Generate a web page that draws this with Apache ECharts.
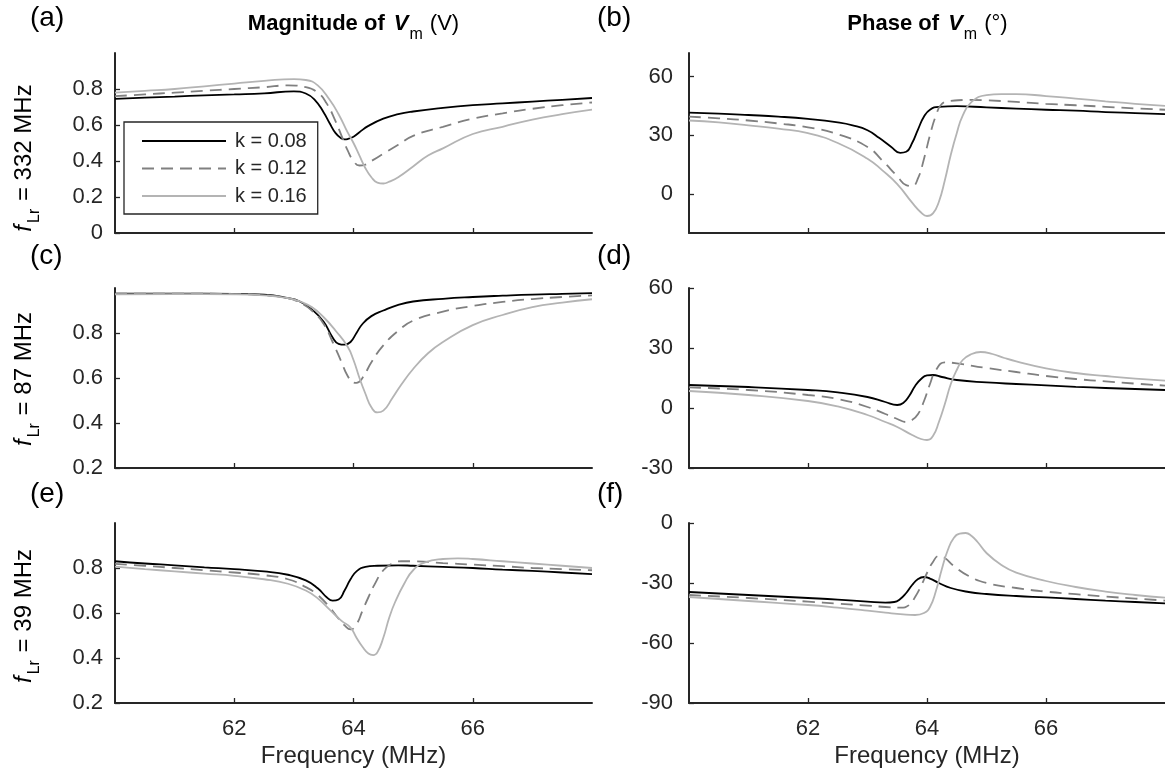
<!DOCTYPE html>
<html><head><meta charset="utf-8">
<script src="https://cdn.jsdelivr.net/npm/echarts@6/dist/echarts.min.js"></script>
<style>html,body{margin:0;padding:0;background:#fff}#chart{width:1165px;height:783px}</style>
</head><body><div id="chart"></div>
<script>
// ---------- data (frequency in MHz) ----------
const seriesNames = ['k = 0.08', 'k = 0.12', 'k = 0.16'];
const xTicks = [62, 64, 66];

// (a) magnitude, fLr = 332 MHz
const aF08 = [60,60.5,61,61.5,62,62.5,63,63.2,63.35,63.5,63.6,63.7,63.8,63.85,63.9,64.0,64.1,64.25,64.5,64.75,65,65.5,66,66.5,67,67.5,68];
const aV08 = [0.745,0.752,0.758,0.765,0.77,0.776,0.787,0.775,0.74,0.67,0.61,0.555,0.525,0.52,0.522,0.535,0.56,0.595,0.635,0.66,0.675,0.695,0.71,0.72,0.73,0.74,0.75];
const aF12 = [60,60.5,61,61.5,62,62.5,62.9,63.2,63.4,63.55,63.7,63.8,63.9,64.0,64.1,64.2,64.3,64.5,64.75,65,65.5,66,66.5,67,67.5,68];
const aV12 = [0.76,0.77,0.78,0.79,0.80,0.81,0.82,0.81,0.78,0.72,0.62,0.54,0.46,0.40,0.375,0.38,0.40,0.44,0.49,0.54,0.59,0.635,0.665,0.69,0.71,0.725];
const aF16 = [60,60.5,61,61.5,62,62.5,63,63.2,63.4,63.6,63.75,63.9,64.0,64.1,64.2,64.3,64.4,64.5,64.6,64.75,65,65.25,65.5,66,66.5,67,67.5,68];
const aV16 = [0.78,0.79,0.80,0.815,0.83,0.845,0.855,0.85,0.82,0.74,0.66,0.56,0.50,0.43,0.36,0.31,0.28,0.275,0.285,0.31,0.37,0.43,0.47,0.55,0.59,0.63,0.66,0.685];

// (b) phase, fLr = 332 MHz
const bF08 = [60,60.5,61,61.5,62,62.5,62.75,63,63.2,63.4,63.55,63.65,63.75,63.85,63.95,64.05,64.2,64.5,65,65.5,66,66.5,67,67.5,68];
const bV08 = [41.5,41,40.3,39.5,38.3,36.5,35,32.5,28.5,24,21,21.5,26,33,39.5,43,44.5,44.8,44.2,43.6,43,42.5,41.8,41.3,40.8];
const bF12 = [60,60.5,61,61.5,62,62.5,63,63.25,63.5,63.65,63.75,63.85,63.95,64.05,64.15,64.25,64.4,64.75,65,65.5,66,66.5,67,67.5,68];
const bV12 = [39.5,38.6,37.5,36,34,30.5,24,17,9,4.5,4,8,18,30,40,46,47.5,48,47.8,47,46,45.3,44.5,43.7,43];
const bF16 = [60,60.5,61,61.5,62,62.5,63,63.25,63.5,63.75,63.9,64.0,64.1,64.2,64.3,64.4,64.5,64.6,64.75,65,65.25,65.5,66,66.5,67,67.5,68];
const bV16 = [37.5,36.5,35,33.3,31,26,18,12,5,-4.5,-9.5,-11.3,-10,-4,7,20,31,40,47,50.5,51,51,50,48.7,47.3,46,45];

// (c) magnitude, fLr = 87 MHz
const cF08 = [60,61,62,62.5,62.9,63.1,63.3,63.5,63.65,63.75,63.85,63.95,64.05,64.15,64.3,64.5,64.75,65,65.5,66,66.5,67,67.5,68];
const cV08 = [0.975,0.975,0.974,0.97,0.955,0.94,0.905,0.85,0.78,0.752,0.748,0.76,0.80,0.84,0.875,0.90,0.925,0.94,0.952,0.96,0.966,0.971,0.974,0.977];
const cF12 = [60,61,62,62.5,62.9,63.1,63.3,63.5,63.65,63.8,63.9,64.0,64.05,64.15,64.3,64.5,64.75,65,65.5,66,66.5,67,67.5,68];
const cV12 = [0.975,0.975,0.973,0.968,0.955,0.935,0.90,0.84,0.76,0.67,0.61,0.58,0.578,0.60,0.67,0.745,0.81,0.855,0.895,0.92,0.938,0.951,0.96,0.967];
const cF16 = [60,61,62,62.5,62.9,63.1,63.3,63.5,63.7,63.9,64.0,64.1,64.2,64.3,64.4,64.5,64.65,64.8,65,65.25,65.5,66,66.5,67,67.5,68];
const cV16 = [0.972,0.973,0.972,0.967,0.955,0.94,0.915,0.87,0.81,0.74,0.68,0.60,0.53,0.47,0.447,0.455,0.51,0.57,0.64,0.71,0.76,0.835,0.88,0.915,0.935,0.95];

// (d) phase, fLr = 87 MHz
const dF08 = [60,61,62,62.5,63,63.3,63.5,63.6,63.7,63.8,63.9,64.0,64.1,64.25,64.5,65,65.5,66,66.5,67,67.5,68];
const dV08 = [11.5,10.5,9,7.8,5.5,3,1.5,2.5,6,11,14.5,16.3,16.5,15.5,14,12.8,12,11.3,10.6,10,9.5,9];
const dF12 = [60,61,62,62.5,63,63.3,63.5,63.65,63.75,63.85,63.95,64.05,64.15,64.3,64.5,65,65.5,66,66.5,67,67.5,68];
const dV12 = [10.3,9,6.5,4.5,0.5,-3,-5.5,-7,-6,-3,3.5,12,19,22.8,22.3,20,18,16,14.5,13.3,12.2,11.2];
const dF16 = [60,61,62,62.5,63,63.3,63.5,63.75,63.9,64.0,64.1,64.2,64.3,64.4,64.5,64.6,64.75,64.9,65.1,65.3,65.5,66,66.5,67,67.5,68];
const dV16 = [8.5,6.5,3.5,0.8,-3.5,-7,-9.5,-13.5,-15.5,-16,-14,-7,2,12,19,24,27,28,27,25,23.3,19.8,17.5,16,14.7,13.7];

// (e) magnitude, fLr = 39 MHz
const eF08 = [60,60.5,61,61.5,62,62.5,62.9,63.2,63.4,63.55,63.65,63.75,63.85,63.95,64.05,64.2,64.4,64.75,65,65.5,66,66.5,67,67.5,68];
const eV08 = [0.83,0.82,0.812,0.803,0.795,0.785,0.77,0.745,0.71,0.67,0.655,0.66,0.70,0.75,0.785,0.805,0.81,0.812,0.81,0.805,0.80,0.793,0.787,0.78,0.773];
const eF12 = [60,60.5,61,61.5,62,62.5,62.9,63.2,63.4,63.6,63.75,63.85,63.95,64.05,64.15,64.25,64.35,64.5,64.65,64.8,65,65.5,66,66.5,67,67.5,68];
const eV12 = [0.818,0.81,0.8,0.79,0.78,0.768,0.75,0.715,0.68,0.625,0.575,0.545,0.527,0.55,0.61,0.67,0.725,0.79,0.82,0.83,0.83,0.822,0.815,0.808,0.80,0.795,0.79];
const eF16 = [60,60.5,61,61.5,62,62.5,62.9,63.2,63.4,63.6,63.8,63.95,64.05,64.15,64.25,64.33,64.4,64.5,64.6,64.7,64.85,65,65.2,65.5,65.75,66,66.5,67,67.5,68];
const eV16 = [0.806,0.795,0.785,0.775,0.765,0.75,0.73,0.70,0.665,0.615,0.565,0.535,0.49,0.45,0.42,0.413,0.425,0.49,0.58,0.65,0.73,0.79,0.825,0.84,0.843,0.84,0.83,0.82,0.81,0.80];

// (f) phase, fLr = 39 MHz
const fF08 = [60,61,62,62.5,63,63.3,63.45,63.55,63.65,63.75,63.85,63.95,64.05,64.2,64.4,64.7,65,65.5,66,66.5,67,67.5,68];
const fV08 = [-34.5,-36,-37.5,-38.3,-39.3,-39.8,-39.5,-38,-35,-31,-28,-27,-27.8,-30,-32.5,-34.5,-35.5,-36.5,-37.2,-38,-38.8,-39.5,-40.2];
const fF12 = [60,61,62,62.5,63,63.3,63.55,63.7,63.8,63.9,64.0,64.1,64.2,64.3,64.45,64.7,65,65.5,66,66.5,67,67.5,68];
const fV12 = [-36,-37.5,-39.3,-40.3,-41.3,-42,-42.3,-41,-37,-31.5,-25,-19.5,-16.5,-17.5,-21.5,-26.5,-30,-32.5,-34.3,-35.6,-36.8,-37.8,-38.8];
const fF16 = [60,61,62,62.5,63,63.3,63.6,63.8,63.95,64.05,64.15,64.25,64.35,64.45,64.55,64.65,64.75,64.85,65,65.25,65.5,66,66.5,67,67.5,68];
const fV16 = [-37,-39,-41,-42.3,-43.8,-44.8,-45.7,-46,-45,-42,-34,-23,-13.5,-7.5,-5.3,-5,-6.5,-9.5,-15,-21,-24.8,-29,-32,-34.3,-36,-37.3];

// y-axis ranges and tick labels per panel
const yMin = [0, -20, 0.2, -30, 0.2, -90];
const yMax = [1, 72, 1, 60, 1, 0];
const yTickA = [0, 0.2, 0.4, 0.6, 0.8];
const yTickB = [0, 30, 60];
const yTickC = [0.2, 0.4, 0.6, 0.8];
const yTickD = [-30, 0, 30, 60];
const yTickE = [0.2, 0.4, 0.6, 0.8];
const yTickF = [-90, -60, -30, 0];

const rowLabels = ['332', '87', '39'];
const panelLetters = ['(a)', '(b)', '(c)', '(d)', '(e)', '(f)'];

// ---------- build ----------
const FF = '"Liberation Sans", Arial, Helvetica, sans-serif';
const AX = '#262626';
const COLORS = ['#000000', '#808080', '#b4b4b4'];
const TYPES = ['solid', [12, 7], 'solid'];

const panelsF = [[aF08,aF12,aF16],[bF08,bF12,bF16],[cF08,cF12,cF16],[dF08,dF12,dF16],[eF08,eF12,eF16],[fF08,fF12,fF16]];
const panelsV = [[aV08,aV12,aV16],[bV08,bV12,bV16],[cV08,cV12,cV16],[dV08,dV12,dV16],[eV08,eV12,eV16],[fV08,fV12,fV16]];
const yTicks = [yTickA, yTickB, yTickC, yTickD, yTickE, yTickF];

const colLeft = [115, 689];
const rowTop = [53, 288, 523];
const GW = 477, GH = 180;

const grids = [], xAxes = [], yAxes = [], series = [];
for (let p = 0; p < 6; p++) {
  const row = Math.floor(p / 2), col = p % 2;
  grids.push({ left: colLeft[col], top: rowTop[row], width: GW, height: GH, containLabel: false });
  xAxes.push({
    type: 'value', gridIndex: p, min: 60, max: 68,
    axisLine: { show: true, onZero: false, lineStyle: { color: AX, width: 2 } },
    axisTick: { show: true, inside: true, length: 5, customValues: xTicks, lineStyle: { color: AX, width: 1.3 } },
    axisLabel: { show: row === 2, customValues: xTicks, fontSize: 22, fontFamily: FF, color: AX, margin: 15 },
    splitLine: { show: false },
    name: row === 2 ? 'Frequency (MHz)' : '',
    nameLocation: 'middle', nameGap: 41,
    nameTextStyle: { fontSize: 24, fontFamily: FF, color: AX }
  });
  yAxes.push({
    type: 'value', gridIndex: p, min: yMin[p], max: yMax[p],
    axisLine: { show: true, onZero: false, lineStyle: { color: AX, width: 2 } },
    axisTick: { show: true, inside: true, length: 5, customValues: yTicks[p], lineStyle: { color: AX, width: 1.3 } },
    axisLabel: { show: true, customValues: yTicks[p], fontSize: 22, fontFamily: FF, color: AX,
      margin: col === 0 ? 12 : 16,
      formatter: v => String(Math.round(v * 100) / 100) },
    splitLine: { show: false }
  });
  for (let s = 0; s < 3; s++) {
    const F = panelsF[p][s], V = panelsV[p][s];
    series.push({
      type: 'line', name: seriesNames[s], xAxisIndex: p, yAxisIndex: p,
      data: F.map((f, i) => [f, V[i]]),
      symbol: 'none', showSymbol: false, smooth: 0.5,
      lineStyle: { color: COLORS[s], width: 1.8, type: TYPES[s] },
      itemStyle: { color: COLORS[s] },
      animation: false, silent: true
    });
  }
}

// text composition helpers
const mctx = document.createElement('canvas').getContext('2d');
function measure(t, font) { mctx.font = font; return mctx.measureText(t).width; }
function composite(pieces, cx, cy, rotation) {
  let total = 0;
  pieces.forEach(pc => { pc.w = measure(pc.text, pc.font); total += pc.w + (pc.gap || 0); });
  let cur = -total / 2;
  const children = pieces.map(pc => {
    const el = { type: 'text', x: cur, y: pc.dy || 0,
      style: { text: pc.text, font: pc.font, fill: pc.fill || '#000', align: 'left', verticalAlign: 'middle',
               textAlign: 'left', textVerticalAlign: 'middle' } };
    cur += pc.w + (pc.gap || 0);
    return el;
  });
  return { type: 'group', x: cx, y: cy, rotation: rotation || 0, children, silent: true };
}
const graphics = [];
const fB = 'bold 22px ' + FF, fBI = 'italic bold 22px ' + FF, fN = '22px ' + FF, fS = '16px ' + FF;
graphics.push(composite([
  { text: 'Magnitude of ', font: fB, gap: 3 }, { text: 'V', font: fBI, gap: 1 }, { text: 'm', font: fS, dy: 11, gap: 7 }, { text: '(V)', font: fN }
], colLeft[0] + GW / 2, 24));
graphics.push(composite([
  { text: 'Phase of ', font: fB, gap: 3 }, { text: 'V', font: fBI, gap: 1 }, { text: 'm', font: fS, dy: 11, gap: 7 }, { text: '(\u00B0)', font: fN }
], colLeft[1] + GW / 2, 24));
const yNameCenters = [158, 379, 616];
const fY = '24px ' + FF, fYI = 'italic 24px ' + FF, fYS = '16px ' + FF;
for (let r = 0; r < 3; r++) {
  graphics.push(composite([
    { text: 'f', font: fYI, gap: 2 }, { text: 'Lr', font: fYS, dy: 11, gap: 1 }, { text: ' = ' + rowLabels[r] + ' MHz', font: fY }
  ], 24, yNameCenters[r], Math.PI / 2));
}
const labelPos = [[30, 18], [597, 18], [30, 256], [597, 256], [30, 494], [597, 494]];
panelLetters.forEach((t, i) => {
  graphics.push({ type: 'text', x: labelPos[i][0], y: labelPos[i][1], silent: true,
    style: { text: t, font: '28px ' + FF, fill: '#000', verticalAlign: 'middle', textVerticalAlign: 'middle' } });
});

const chart = echarts.init(document.getElementById('chart'));
chart.setOption({
  animation: false,
  backgroundColor: '#fff',
  grid: grids, xAxis: xAxes, yAxis: yAxes, series: series,
  legend: {
    data: seriesNames, orient: 'vertical', left: 124, top: 122,
    itemWidth: 84, itemHeight: 20, itemGap: 7.5, padding: [9, 11, 8, 17],
    borderColor: AX, borderWidth: 1.3, backgroundColor: '#fff', selectedMode: false,
    itemStyle: { opacity: 0 },
    lineStyle: { opacity: 1 },
    textStyle: { fontSize: 20, fontFamily: FF, color: AX, lineHeight: 20, padding: [0, 0, 0, 4] }
  },
  graphic: graphics
});
</script></body></html>
